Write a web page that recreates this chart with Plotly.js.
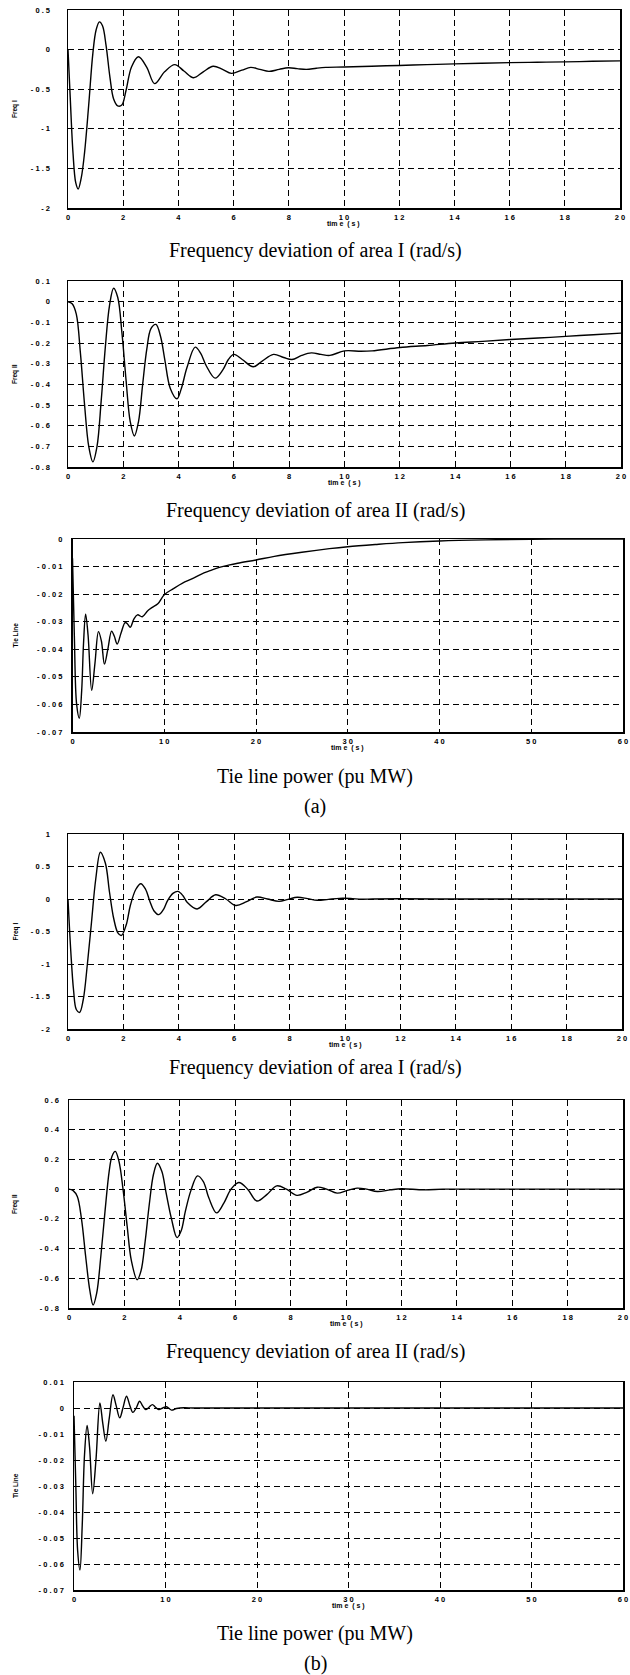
<!DOCTYPE html>
<html>
<head>
<meta charset="utf-8">
<script src="https://cdn.plot.ly/plotly-3.0.1.min.js"></script>
<style>html,body{margin:0;padding:0;background:#fff;}#chart{width:630px;height:1675px;}</style>
</head>
<body>
<div id="chart"></div>
<script>
// ---------- DATA ----------
// (a) Frequency deviation of area I
const tFreq1A = [0, 0.08, 0.18, 0.28, 0.37, 0.48, 0.6, 0.75, 0.9, 1.02, 1.14, 1.25, 1.38, 1.52, 1.65, 1.8, 1.95, 2.1, 2.3, 2.55, 2.85, 3.14, 3.5, 3.87, 4.2, 4.55, 4.9, 5.26, 5.6, 5.92, 6.3, 6.62, 6.95, 7.28, 7.65, 7.98, 8.3, 8.64, 9.0, 9.34, 10, 11, 12, 13, 14, 15, 16, 17, 18, 19, 20];
const freq1A  = [0, -0.6, -1.3, -1.68, -1.76, -1.62, -1.3, -0.7, -0.05, 0.25, 0.35, 0.3, 0.05, -0.35, -0.62, -0.71, -0.7, -0.52, -0.22, -0.09, -0.22, -0.43, -0.28, -0.19, -0.27, -0.355, -0.28, -0.21, -0.25, -0.3, -0.26, -0.225, -0.25, -0.275, -0.25, -0.23, -0.24, -0.25, -0.235, -0.225, -0.22, -0.21, -0.2, -0.19, -0.18, -0.172, -0.165, -0.16, -0.155, -0.148, -0.142];
// (a) Frequency deviation of area II
const tFreq2A = [0, 0.15, 0.3, 0.45, 0.6, 0.75, 0.9, 1.05, 1.2, 1.35, 1.5, 1.65, 1.8, 1.95, 2.1, 2.25, 2.4, 2.55, 2.7, 2.85, 3.0, 3.18, 3.35, 3.5, 3.7, 3.94, 4.1, 4.3, 4.6, 4.8, 5.0, 5.32, 5.6, 5.8, 6.0, 6.3, 6.7, 7.0, 7.43, 7.8, 8.1, 8.45, 8.8, 9.15, 9.47, 10, 10.6, 11, 12, 13, 14, 15, 16, 17, 18, 19, 20];
const freq2A  = [0, -0.01, -0.06, -0.25, -0.5, -0.7, -0.775, -0.7, -0.48, -0.22, -0.02, 0.065, 0.02, -0.15, -0.38, -0.58, -0.65, -0.58, -0.4, -0.23, -0.13, -0.11, -0.17, -0.28, -0.42, -0.47, -0.42, -0.32, -0.22, -0.25, -0.31, -0.37, -0.33, -0.28, -0.255, -0.28, -0.315, -0.29, -0.255, -0.27, -0.28, -0.26, -0.248, -0.255, -0.26, -0.238, -0.24, -0.238, -0.222, -0.212, -0.2, -0.192, -0.183, -0.176, -0.168, -0.16, -0.152];
// (a) Tie line power
const tTieA = [0, 0.2, 0.45, 0.74, 1.0, 1.2, 1.43, 1.7, 2.09, 2.45, 2.83, 3.15, 3.48, 3.85, 4.26, 4.55, 4.87, 5.3, 5.74, 6.0, 6.3, 6.7, 7.09, 7.6, 8.2, 8.7, 9.3, 10, 11, 12, 13, 14, 15, 16, 17, 18, 20, 22, 25, 28, 30, 33, 36, 40, 45, 50, 55, 60];
const tieA  = [-0.007, -0.035, -0.06, -0.065, -0.055, -0.038, -0.0273, -0.035, -0.0549, -0.045, -0.0336, -0.037, -0.0454, -0.04, -0.0334, -0.0352, -0.0381, -0.034, -0.0303, -0.0308, -0.032, -0.029, -0.0275, -0.0282, -0.026, -0.0248, -0.0235, -0.0202, -0.018, -0.016, -0.0145, -0.0128, -0.0115, -0.0103, -0.0095, -0.0088, -0.0076, -0.0063, -0.0048, -0.0035, -0.0028, -0.002, -0.0013, -0.0007, -0.0003, -0.0001, 0, 0];
// (b) Frequency deviation of area I
const tFreq1B = [0, 0.1, 0.2, 0.3, 0.42, 0.55, 0.7, 0.85, 1.0, 1.17, 1.35, 1.5, 1.65, 1.8, 1.93, 2.1, 2.25, 2.45, 2.63, 2.8, 2.95, 3.1, 3.28, 3.45, 3.6, 3.8, 3.97, 4.15, 4.3, 4.66, 5.0, 5.33, 5.7, 6.06, 6.45, 6.82, 7.2, 7.62, 7.95, 8.28, 8.65, 9.0, 9.4, 9.8, 10.2, 10.6, 11, 12, 14, 16, 18, 20];
const freq1B  = [0, -0.8, -1.4, -1.7, -1.745, -1.55, -1.0, -0.35, 0.3, 0.72, 0.55, 0.1, -0.3, -0.52, -0.56, -0.4, -0.1, 0.15, 0.235, 0.15, -0.03, -0.18, -0.24, -0.16, -0.02, 0.09, 0.117, 0.05, -0.05, -0.153, -0.04, 0.066, 0.0, -0.1, -0.04, 0.03, 0.0, -0.036, -0.005, 0.026, 0.005, -0.02, -0.005, 0.01, 0.008, -0.004, 0, 0.003, 0, 0, 0, 0];
// (b) Frequency deviation of area II
const tFreq2B = [0, 0.15, 0.3, 0.45, 0.6, 0.75, 0.87, 1.0, 1.15, 1.3, 1.45, 1.55, 1.67, 1.8, 1.95, 2.1, 2.25, 2.46, 2.6, 2.75, 2.9, 3.05, 3.19, 3.35, 3.5, 3.7, 3.9, 4.05, 4.2, 4.4, 4.64, 4.85, 5.05, 5.33, 5.6, 5.85, 6.13, 6.45, 6.78, 7.15, 7.5, 7.85, 8.23, 8.6, 8.96, 9.3, 9.68, 10.05, 10.4, 10.75, 11.13, 11.6, 12, 12.8, 13.5, 14, 16, 18, 20];
const freq2B  = [0, -0.01, -0.05, -0.2, -0.45, -0.68, -0.78, -0.7, -0.45, -0.15, 0.12, 0.22, 0.254, 0.19, 0.0, -0.25, -0.48, -0.61, -0.55, -0.35, -0.1, 0.1, 0.174, 0.12, -0.02, -0.2, -0.326, -0.28, -0.15, -0.01, 0.089, 0.05, -0.06, -0.16, -0.09, 0.0, 0.045, 0.0, -0.08, -0.035, 0.022, 0.0, -0.042, -0.02, 0.013, 0.0, -0.027, -0.008, 0.007, 0.0, -0.016, -0.005, 0.003, -0.005, 0.0, 0, 0, 0, 0];
// (b) Tie line power
const tTieB = [0, 0.2, 0.4, 0.65, 0.9, 1.15, 1.43, 1.7, 2.04, 2.4, 2.83, 3.15, 3.48, 3.85, 4.26, 4.6, 5.0, 5.35, 5.74, 6.1, 6.43, 6.8, 7.17, 7.5, 7.83, 8.2, 8.57, 8.9, 9.26, 9.7, 10.1, 10.65, 11.2, 12, 13, 15, 20, 30, 40, 50, 60];
const tieB  = [-0.003, -0.03, -0.055, -0.0623, -0.045, -0.018, -0.0067, -0.015, -0.033, -0.02, 0.0019, -0.006, -0.0128, -0.004, 0.0051, 0.001, -0.0038, 0.0, 0.0045, 0.001, -0.0017, 0.0, 0.0026, 0.0008, -0.0006, 0.0003, 0.0013, 0.0003, -0.0006, 0.0, 0.0005, -0.0008, -0.0002, 0.0001, 0, 0, 0, 0, 0, 0, 0];

// Tick values and labels (spaced characters as in the original print)
const xTicks20 = [0, 2, 4, 6, 8, 10, 12, 14, 16, 18, 20];
const xText20  = ['0', '2', '4', '6', '8', '1 0', '1 2', '1 4', '1 6', '1 8', '2 0'];
const xTicks60 = [0, 10, 20, 30, 40, 50, 60];
const xText60  = ['0', '1 0', '2 0', '3 0', '4 0', '5 0', '6 0'];
const yTicksF1A = [0.5, 0, -0.5, -1, -1.5, -2];
const yTextF1A  = ['0 . 5', '0', '- 0 . 5', '- 1', '- 1 . 5', '- 2'];
const yTicksF2A = [0.1, 0, -0.1, -0.2, -0.3, -0.4, -0.5, -0.6, -0.7, -0.8];
const yTextF2A  = ['0 . 1', '0', '- 0 . 1', '- 0 . 2', '- 0 . 3', '- 0 . 4', '- 0 . 5', '- 0 . 6', '- 0 . 7', '- 0 . 8'];
const yTicksTA = [0, -0.01, -0.02, -0.03, -0.04, -0.05, -0.06, -0.07];
const yTextTA  = ['0', '- 0 . 0 1', '- 0 . 0 2', '- 0 . 0 3', '- 0 . 0 4', '- 0 . 0 5', '- 0 . 0 6', '- 0 . 0 7'];
const yTicksF1B = [1, 0.5, 0, -0.5, -1, -1.5, -2];
const yTextF1B  = ['1', '0 . 5', '0', '- 0 . 5', '- 1', '- 1 . 5', '- 2'];
const yTicksF2B = [0.6, 0.4, 0.2, 0, -0.2, -0.4, -0.6, -0.8];
const yTextF2B  = ['0 . 6', '0 . 4', '0 . 2', '0', '- 0 . 2', '- 0 . 4', '- 0 . 6', '- 0 . 8'];
const yTicksTB = [0.01, 0, -0.01, -0.02, -0.03, -0.04, -0.05, -0.06, -0.07];
const yTextTB  = ['0 . 0 1', '0', '- 0 . 0 1', '- 0 . 0 2', '- 0 . 0 3', '- 0 . 0 4', '- 0 . 0 5', '- 0 . 0 6', '- 0 . 0 7'];

const yLabels = ['Freq I', 'Freq II', 'Tie Line', 'Freq I', 'Freq II', 'Tie Line'];
const captions = ['Frequency deviation of area I (rad/s)', 'Frequency deviation of area II (rad/s)', 'Tie line power (pu MW)',
                  'Frequency deviation of area I (rad/s)', 'Frequency deviation of area II (rad/s)', 'Tie line power (pu MW)'];
const groupLabels = ['(a)', '(b)'];
const xLabel = 'tim e  ( s )';

// ---------- LAYOUT ----------
const nb = s => s.replace(/ /g, '\u00A0');
const W = 630, H = 1675;
const panels = [
  {t: tFreq1A, v: freq1A, xr: [0, 20], yr: [-2, 0.5], xt: xTicks20, xx: xText20, yt: yTicksF1A, yx: yTextF1A, box: [68, 620, 10, 208], so: 15, cap: 251},
  {t: tFreq2A, v: freq2A, xr: [0, 20], yr: [-0.8, 0.1], xt: xTicks20, xx: xText20, yt: yTicksF2A, yx: yTextF2A, box: [68, 621, 281, 467], so: 15, cap: 510},
  {t: tTieA, v: tieA, xr: [0, 60], yr: [-0.07, 0], xt: xTicks60, xx: xText60, yt: yTicksTA, yx: yTextTA, box: [72.5, 623, 539, 732], so: 7, cap: 776},
  {t: tFreq1B, v: freq1B, xr: [0, 20], yr: [-2, 1], xt: xTicks20, xx: xText20, yt: yTicksF1B, yx: yTextF1B, box: [68, 622, 834, 1029], so: 15, cap: 1067},
  {t: tFreq2B, v: freq2B, xr: [0, 20], yr: [-0.8, 0.6], xt: xTicks20, xx: xText20, yt: yTicksF2B, yx: yTextF2B, box: [69, 623, 1100, 1308], so: 7, cap: 1351},
  {t: tTieB, v: tieB, xr: [0, 60], yr: [-0.07, 0.01], xt: xTicks60, xx: xText60, yt: yTicksTB, yx: yTextTB, box: [74, 623, 1382, 1590], so: 7, cap: 1633}
];
const groupY = [807, 1663];

const px = x => x / W;
const py = y => 1 - y / H;
const tickFont = {family: 'Liberation Sans, Arial, sans-serif', size: 7.5, color: '#000', weight: 'bold'};

const data = [];
const layout = {
  width: W, height: H,
  margin: {l: 0, r: 0, t: 0, b: 0},
  paper_bgcolor: '#fff', plot_bgcolor: '#fff',
  showlegend: false,
  annotations: [],
  font: {family: 'Liberation Sans, Arial, sans-serif', color: '#000'}
};

panels.forEach((p, i) => {
  const n = i + 1;
  const sfx = n === 1 ? '' : String(n);
  const [x0, x1, y0, y1] = p.box;
  data.push({
    x: p.t, y: p.v, type: 'scatter', mode: 'lines',
    xaxis: 'x' + sfx, yaxis: 'y' + sfx,
    line: {color: '#000', width: 1.4, shape: 'spline', smoothing: 1},
    hoverinfo: 'skip'
  });
  const common = {
    showline: true, mirror: true, linecolor: '#000', linewidth: 1.5,
    showgrid: true, gridcolor: '#000', gridwidth: 1, griddash: '6px,4px',
    zeroline: false, ticks: '', tickfont: tickFont, fixedrange: true,
    ticklabeloverflow: 'allow'
  };
  layout['xaxis' + sfx] = Object.assign({}, common, {
    domain: [px(x0), px(x1)], range: p.xr, tickmode: 'array', tickvals: p.xt, ticktext: p.xx.map(nb),
    anchor: 'y' + sfx, ticklabelstandoff: 1
  });
  layout['yaxis' + sfx] = Object.assign({}, common, {
    domain: [py(y1), py(y0)], range: p.yr, tickmode: 'array', tickvals: p.yt, ticktext: p.yx.map(nb),
    anchor: 'x' + sfx, ticklabelstandoff: p.so
  });
  // y-axis label
  layout.annotations.push({
    xref: 'paper', yref: 'paper', x: px(15), y: py((y0 + y1) / 2), text: yLabels[i],
    textangle: -90, showarrow: false, xanchor: 'center', yanchor: 'middle',
    font: {family: 'Liberation Sans, Arial, sans-serif', size: 6.5, color: '#000', weight: 'bold'}
  });
  // x-axis label
  layout.annotations.push({
    xref: 'paper', yref: 'paper', x: px((x0 + x1) / 2), y: py(y1 + 16), text: nb(xLabel),
    showarrow: false, xanchor: 'center', yanchor: 'middle',
    font: {family: 'Liberation Sans, Arial, sans-serif', size: 7, color: '#000', weight: 'bold'}
  });
  // caption
  layout.annotations.push({
    xref: 'paper', yref: 'paper', x: px(315), y: py(p.cap), text: captions[i],
    showarrow: false, xanchor: 'center', yanchor: 'middle',
    font: {family: 'Liberation Serif, Times New Roman, serif', size: 20, color: '#000'}
  });
});
groupLabels.forEach((g, k) => {
  layout.annotations.push({
    xref: 'paper', yref: 'paper', x: px(315), y: py(groupY[k]), text: g,
    showarrow: false, xanchor: 'center', yanchor: 'middle',
    font: {family: 'Liberation Serif, Times New Roman, serif', size: 20, color: '#000'}
  });
});

Plotly.newPlot('chart', data, layout, {staticPlot: true, displayModeBar: false});
</script>
</body>
</html>
